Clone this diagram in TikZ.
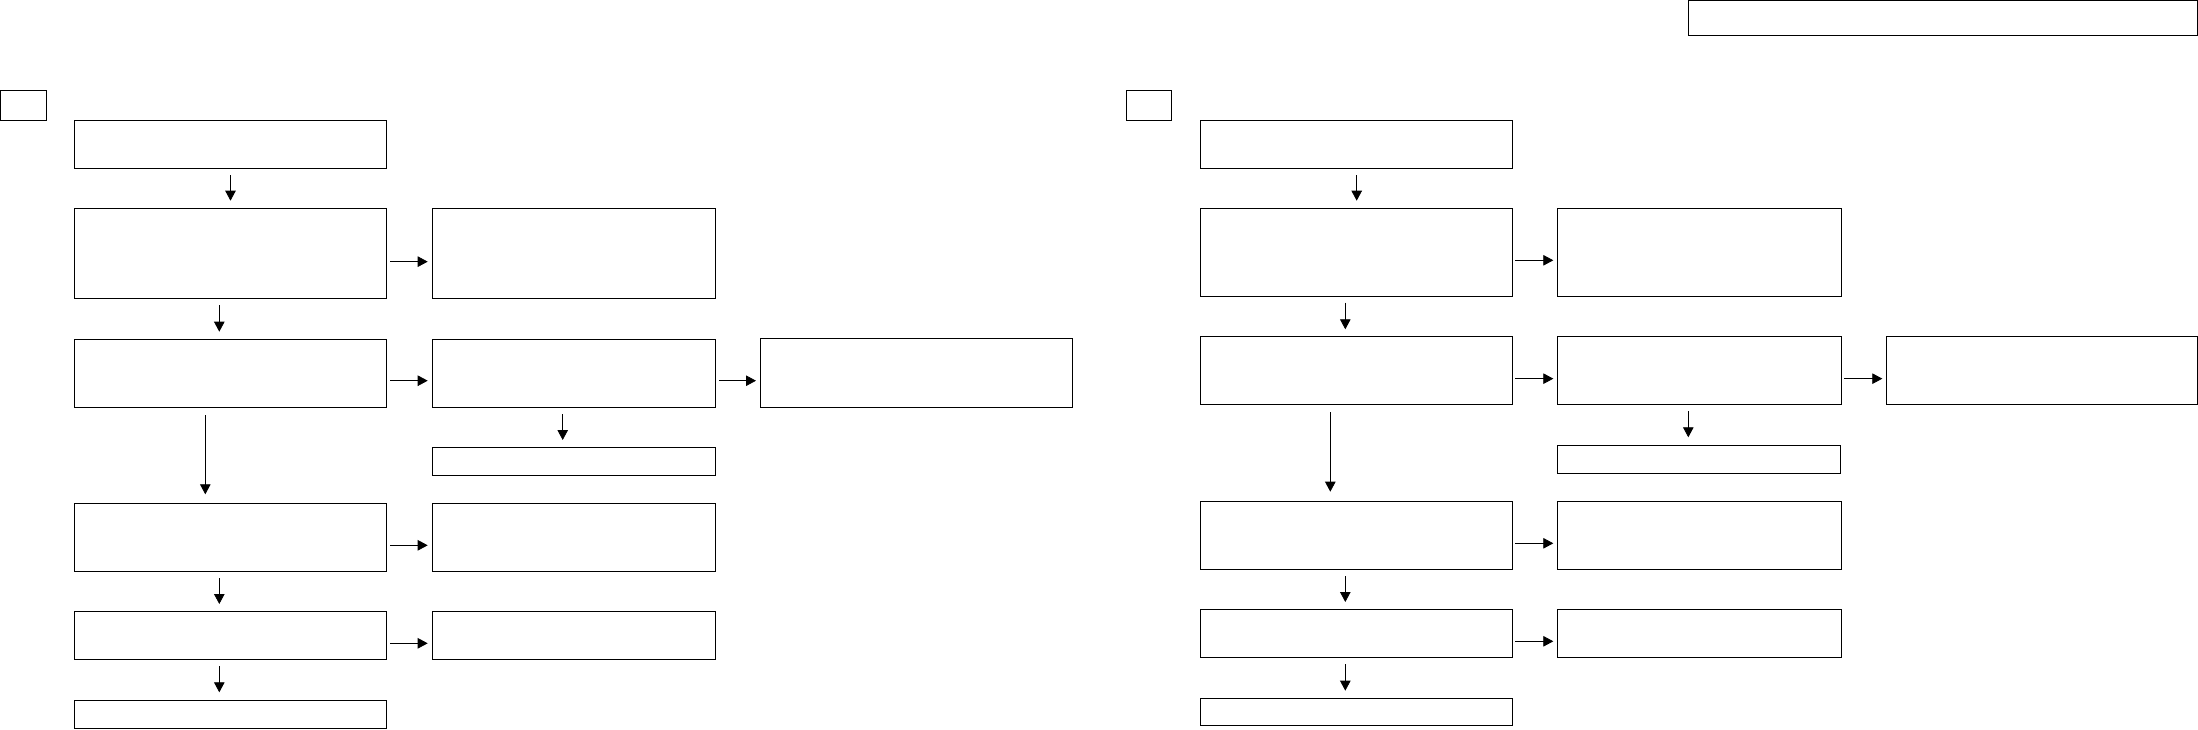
\documentclass[tikz,border=0pt]{standalone}
\usetikzlibrary{arrows.meta}
\begin{document}
\begin{tikzpicture}[x=1pt,y=-1pt,
  box/.style={draw, line width=1pt, rectangle, inner sep=0pt, outer sep=0pt, anchor=north west},
  arr/.style={line width=0.8pt, -{Triangle[length=10pt,width=10.5pt]}}]
\useasboundingbox (0,0) rectangle (2198,729);
\newcommand\bx[5]{\node[box, minimum width=#4pt, minimum height=#5pt] (#1) at (#2,#3) {};}
\newcommand\varr[5]{\coordinate (tmp) at ([xshift=#3pt]#1.south); \draw[arr, shorten <=#4pt, shorten >=#5pt] (tmp) -- (tmp |- #2.north);}
\newcommand\harr[5]{\coordinate (tmp) at ([yshift=#3pt]#1.east); \draw[arr, shorten <=#4pt, shorten >=#5pt] (tmp) -- (tmp -| #2.west);}
% top box
\bx{TOP}{1688.3}{0.7}{509}{34.3}
% left panel
\bx{LS}{0.5}{90}{46}{30.3}
\bx{LA1}{74.3}{120.3}{312.4}{48}
\bx{LA2}{74.3}{208}{312.4}{90.3}
\bx{LA3}{74.3}{339.3}{312.4}{68}
\bx{LA4}{74.3}{503.3}{312.4}{68}
\bx{LA5}{74.3}{611.3}{312.4}{48}
\bx{LA6}{74.3}{700}{312.4}{28.3}
\bx{LB2}{432.3}{208.3}{283.4}{90}
\bx{LB3}{432.3}{339.3}{283.4}{68}
\bx{LB3b}{432.3}{447.3}{283.4}{28}
\bx{LB4}{432.3}{503.3}{283.4}{68}
\bx{LB5}{432.3}{611.3}{283.4}{48}
\bx{LC3}{760.3}{338.3}{312.4}{69}
\varr{LA1}{LA2}{0}{6.7}{7.3}
\varr{LA2}{LA3}{-11.2}{6.7}{7.6}
\varr{LA3}{LA4}{-25.2}{7.7}{9}
\varr{LA4}{LA5}{-11.2}{6.7}{7.3}
\varr{LA5}{LA6}{-11.2}{6.7}{7.7}
\varr{LB3}{LB3b}{-11.3}{6.7}{7.3}
\harr{LA2}{LB2}{-8.5}{3.3}{4.6}
\harr{LA3}{LB3}{-7.4}{3.3}{4.6}
\harr{LA4}{LB4}{-8}{3.3}{4.6}
\harr{LA5}{LB5}{-8}{3.3}{4.6}
\harr{LB3}{LC3}{-7.4}{3.3}{4.3}
% right panel
\bx{RS}{1126.3}{90}{45.4}{30.3}
\bx{RA1}{1200.3}{120.3}{312}{48}
\bx{RA2}{1200.3}{208}{312}{88}
\bx{RA3}{1200.3}{336}{312}{68.3}
\bx{RA4}{1200.3}{501.3}{312}{68}
\bx{RA5}{1200.3}{609.3}{312}{48}
\bx{RA6}{1200.3}{698}{312}{27.7}
\bx{RB2}{1557.3}{208.3}{284}{88}
\bx{RB3}{1557.3}{336}{284}{68.3}
\bx{RB3b}{1557.3}{445.3}{283.4}{28}
\bx{RB4}{1557.3}{501.3}{284}{68}
\bx{RB5}{1557.3}{609.3}{284}{48}
\bx{RC3}{1886.3}{336.3}{311}{68}
\varr{RA1}{RA2}{0.4}{6.7}{7.3}
\varr{RA2}{RA3}{-11}{6.7}{6.7}
\varr{RA3}{RA4}{-26}{7.7}{9.6}
\varr{RA4}{RA5}{-11}{6.7}{7.3}
\varr{RA5}{RA6}{-11}{6.7}{7.3}
\varr{RB3}{RB3b}{-11}{6.7}{8}
\harr{RA2}{RB2}{-8.3}{2.7}{4}
\harr{RA3}{RB3}{-8.5}{2.7}{4}
\harr{RA4}{RB4}{-8}{2.7}{4}
\harr{RA5}{RB5}{-8}{2.7}{4}
\harr{RB3}{RC3}{-8.5}{2.7}{4}
\end{tikzpicture}
\end{document}
